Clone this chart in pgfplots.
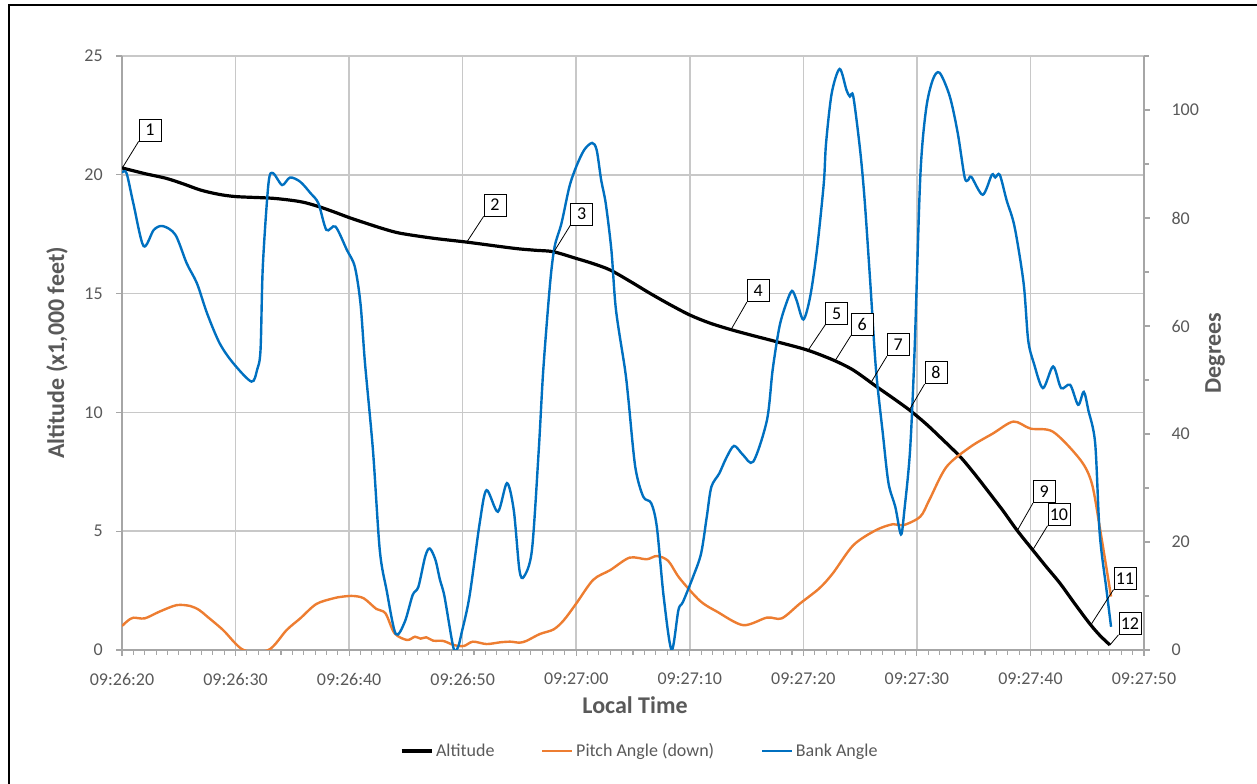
\documentclass[border=0pt]{standalone}
\usepackage{fontspec}
\setmainfont{Carlito}
\usepackage{pgfplots}
\pgfplotsset{compat=1.18}
\definecolor{txt}{HTML}{595959}
\definecolor{axl}{HTML}{A6A6A6}
\definecolor{grd}{HTML}{C8C8C8}
\definecolor{pitch}{HTML}{ED7D31}
\definecolor{bank}{HTML}{0070C0}
\newcommand{\tfont}{\fontsize{13.5}{16}\selectfont}
\newcommand{\lfont}{\fontsize{18}{21}\selectfont\bfseries}
\pgfplotsset{basestyle/.style={width=766.5pt,height=445.5pt,scale only axis,
  at={(91.5pt,100.5pt)},anchor=south west,xmin=0,xmax=90,
  /pgf/number format/assume math mode=true,
  tick label style={font=\tfont,text=txt,inner sep=0pt},
  label style={font=\lfont,text=txt},
  axis line style={axl,line width=1pt},
  tick style={axl,line width=0.8pt},
  tick align=outside, major tick length=4.5pt, minor tick length=3.5pt}}
\tikzset{callout/.style={draw=black,fill=white,line width=0.6pt,minimum width=16.5pt,minimum height=16.5pt,inner sep=0pt,font=\tfont,text=black}}
\begin{document}
\begin{tikzpicture}
\path[use as bounding box] (0,0) rectangle (942.75pt,588pt);
\draw[line width=1.2pt] (6.75pt,0) -- (6.75pt,584.25pt) -- (942.75pt,584.25pt);
\begin{axis}[basestyle, ymin=0, ymax=25,
  axis x line*=bottom, axis y line*=left,
  xtick={0,10,...,90},
  xticklabels={09:26:20,09:26:30,09:26:40,09:26:50,09:27:00,09:27:10,09:27:20,09:27:30,09:27:40,09:27:50},
  minor x tick num=9,
  ytick={0,5,...,25},
  grid=major, major grid style={grd,line width=1.2pt},
  xticklabel style={anchor=center,yshift=-17.25pt},
  yticklabel style={anchor=east,xshift=-9.75pt},
  xlabel={Local Time}, ylabel={Altitude (x1,000 feet)},
  xlabel style={at={(axis description cs:0.502,-0.0926)},anchor=center},
  ylabel style={at={(axis description cs:-0.0636,0.5)},anchor=center}]
\addplot[black,line width=2.4pt,smooth] coordinates {
(0,20.29) (2,20.05) (3.9,19.85) (5.5,19.6) (6.9,19.36) (8.5,19.18) (10.1,19.08)
(13.3,19.01) (15.7,18.87) (17.2,18.68) (18.6,18.45) (20,18.2) (21.5,17.96) (23,17.73)
(24.5,17.54) (27.4,17.33) (30.3,17.17) (33.3,16.98) (35,16.88) (36.5,16.82) (38,16.76)
(40,16.48) (41.5,16.26) (43,15.99) (44.8,15.5) (46.5,15.01) (48.2,14.55) (50,14.10)
(51.7,13.77) (53.5,13.50) (55.5,13.24) (57.6,12.98) (60.3,12.63) (62.6,12.21) (64.4,11.78)
(66.4,11.10) (67.9,10.6) (69.4,10.08) (70.8,9.52) (72.0,8.98) (73.8,8.14) (75.1,7.4)
(76.4,6.60) (77.6,5.85) (78.8,5.05) (80.2,4.21) (81.4,3.5) (82.6,2.81) (83.9,1.95)
(85.2,1.12) (86.1,0.62) (87.0,0.21)};
\end{axis}
\begin{axis}[basestyle, ymin=0, ymax=110,
  axis y line*=right, axis x line=none,
  ytick={0,20,...,100}, minor ytick={10,30,...,110},
  yticklabel style={anchor=west,xshift=16pt},
  ylabel={Degrees},
  ylabel style={at={(axis description cs:1.0695,0.5)},anchor=center,rotate=0},
  legend style={at={(0.507,-0.170)},anchor=center,draw=none,fill=none,font=\tfont,text=txt,
    legend columns=3,/tikz/every even column/.append style={column sep=33pt}},
  legend image code/.code={\draw[#1] (0pt,0pt) -- (22.5pt,0pt);}]
\addlegendimage{black,line width=2.4pt}
\addlegendentry{Altitude}
\addplot[pitch,line width=1.8pt,smooth] coordinates {
(0,4.44) (0.5,5.4) (1.0,5.98) (2.0,5.86) (3.3,7.1) (4.8,8.3) (6.0,8.15) (6.8,7.4)
(7.5,6.2) (8.9,3.7) (10.7,0) (12.9,0) (14.5,3.7) (15.7,5.86) (17.1,8.5) (18.6,9.56)
(19.5,9.9) (20.4,10.0) (21.3,9.56) (22.4,7.6) (23.2,6.8) (24.0,3.1) (25.1,1.85) (25.8,2.46)
(26.3,2.1) (26.8,2.35) (27.4,1.73) (28.3,1.67) (29.2,0.93) (30.1,0.74) (30.9,1.54) (32.1,1.1)
(33.3,1.42) (34.2,1.54) (35.0,1.36) (35.6,1.67) (36.8,2.96) (38.0,3.8) (38.9,5.5) (40.0,8.6)
(41.5,13.0) (43.0,14.8) (44.7,17.1) (46.2,16.8) (47.1,17.4) (48.1,16.5) (49.1,13.3) (50.9,9.1)
(52.4,7.1) (54.7,4.6) (56.8,6.0) (58.1,5.86) (59.7,8.6) (61.4,11.4) (62.6,14.2) (64.4,19.4)
(66.4,22.2) (67.9,23.3) (68.8,23.1) (70.3,24.7) (71.1,27.8) (72.6,33.9) (74.7,37.6) (76.7,40.1)
(78.5,42.3) (80.0,41.0) (82.0,40.4) (84.4,35.2) (85.4,30.9) (86.1,22.8) (87.1,9.9)};
\addlegendentry{Pitch Angle (down)}
\addplot[bank,line width=1.8pt,smooth] coordinates {
(0,88.4) (0.4,88.3) (1.0,82.7) (1.9,74.8) (2.8,77.8) (3.6,78.5) (4.7,76.9) (5.7,71.6)
(6.6,67.9) (7.5,62.3) (8.6,56.8) (9.8,53.1) (11.4,49.7) (11.9,51.9) (12.2,55.6) (12.4,71)
(12.9,86.4) (13.3,88.3) (14.1,86.1) (14.8,87.5) (15.7,86.7) (16.6,84.6) (17.3,82.7) (18.0,77.8)
(18.8,78.4) (19.8,74.1) (20.5,71.0) (21.0,64.2) (21.4,53.1) (22.1,37) (22.7,18.5) (23.3,11.1)
(24.1,3) (24.9,5.2) (25.6,10.2) (26.1,11.7) (26.7,17.3) (27.1,18.8) (27.6,16.7) (28.0,13)
(28.4,9.9) (29.2,0.3) (29.6,0.6) (29.9,3.1) (30.6,9.9) (31.5,23.5) (32.1,29.6) (33.1,25.6)
(33.9,30.9) (34.5,25.9) (35.0,14.8) (35.4,13.6) (36.1,18.5) (36.7,37) (37.1,51.9) (37.7,67.9)
(38.1,74.7) (38.7,79) (39.4,85.8) (40.0,89.5) (40.7,92.6) (41.4,93.9) (41.8,92.6) (42.2,87)
(42.6,82.7) (43.1,74) (43.5,63) (44.3,51.9) (44.6,46.3) (45.2,33.9) (45.9,28.4) (46.6,27.2)
(47.1,22.8) (47.7,9.9) (48.4,0) (49.0,7.4) (49.4,8.9) (50.3,13.6) (51.0,17.9) (51.5,24.7)
(51.9,30.2) (52.6,32.7) (53.2,35.5) (53.9,37.8) (54.7,36.1) (55.6,34.9) (56.8,42.6) (57.3,51.9)
(57.9,59.9) (58.5,64.2) (59.0,66.5) (59.4,64.8) (60.0,61.2) (60.6,65.4) (61.2,74.1) (61.8,86.4)
(62.0,93.8) (62.5,103.1) (63.2,107.6) (63.8,103.7) (64.1,102.5) (64.4,102.5) (65.0,92.6) (65.4,83.3)
(65.9,67.9) (66.4,51.9) (67.0,40.1) (67.5,30.9) (68.1,26.5) (68.6,21.4) (68.9,25.9) (69.4,37)
(69.8,55.6) (70.3,87.6) (70.8,100) (71.4,105.6) (72.0,106.9) (72.9,102.5) (73.6,95.7) (74.2,87.6)
(74.5,87) (74.8,87.6) (75.8,84.3) (76.6,88) (76.9,87.5) (77.3,88) (77.9,83.3) (78.6,78.4)
(79.4,67.9) (79.8,57.4) (80.3,53.1) (81.1,48.5) (82.0,52.5) (82.7,48.5) (83.5,49.1) (84.2,45.4)
(84.7,47.8) (85.1,44.4) (85.7,38.3) (86.1,21.6) (86.7,11.1) (87.1,4.3)};
\addlegendentry{Bank Angle}
% callouts (positions in degree units: altitude x 4.4)
\node[callout] (b1) at (axis cs:2.47,96.30) {1};
\draw[black,line width=0.6pt] (axis cs:0.03,89.28) -- (b1.south west);
\node[callout] (b2) at (axis cs:32.85,82.41) {2};
\draw[black,line width=0.6pt] (axis cs:30.37,75.55) -- (b2.south west);
\node[callout] (b3) at (axis cs:40.48,80.74) {3};
\draw[black,line width=0.6pt] (axis cs:38.04,73.74) -- (b3.south west);
\node[callout] (b4) at (axis cs:56.03,66.53) {4};
\draw[black,line width=0.6pt] (axis cs:53.63,59.31) -- (b4.south west);
\node[callout] (b5) at (axis cs:62.94,62.35) {5};
\draw[black,line width=0.6pt] (axis cs:60.43,55.53) -- (b5.south west);
\node[callout] (b6) at (axis cs:65.19,60.32) {6};
\draw[black,line width=0.6pt] (axis cs:62.78,53.50) -- (b6.south west);
\node[callout] (b7) at (axis cs:68.36,56.50) {7};
\draw[black,line width=0.6pt] (axis cs:66.0,49.68) -- (b7.south west);
\node[callout] (b8) at (axis cs:71.68,51.35) {8};
\draw[black,line width=0.6pt] (axis cs:69.33,44.44) -- (b8.south west);
\node[callout] (b9) at (axis cs:81.22,29.30) {9};
\draw[black,line width=0.6pt] (axis cs:78.87,22.22) -- (b9.south west);
\node[callout] (b10) at (axis cs:82.51,25.12) {10};
\draw[black,line width=0.6pt] (axis cs:80.2,18.52) -- (b10.south west);
\node[callout] (b11) at (axis cs:88.32,13.29) {11};
\draw[black,line width=0.6pt] (axis cs:85.35,4.75) -- (b11.south west);
\node[callout] (b12) at (axis cs:88.76,4.93) {12};
\draw[black,line width=0.6pt] (axis cs:87.0,0.92) -- (b12.south west);
\end{axis}
\end{tikzpicture}
\end{document}
